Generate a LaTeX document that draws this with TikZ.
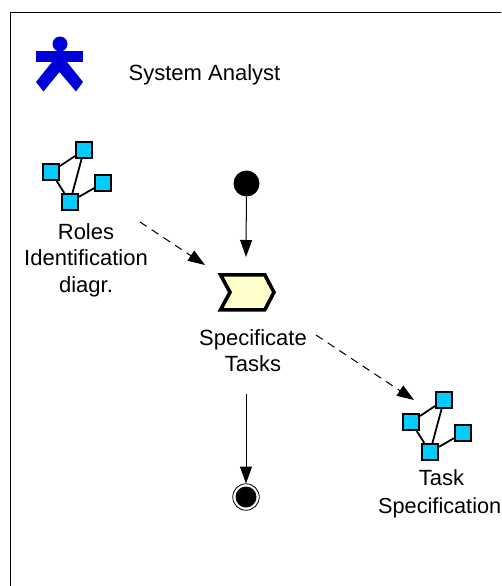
\documentclass[tikz,border=0pt]{standalone}
\usepackage{fontspec}
\setmainfont{Liberation Sans}
\usetikzlibrary{arrows.meta}
\definecolor{actorblue}{HTML}{0000D8}
\definecolor{iconcyan}{HTML}{00CCFF}
\definecolor{taskyellow}{HTML}{FFFFCC}
\tikzset{
  lbl/.style={align=center,inner sep=0pt,font=\fontsize{22}{26.6}\selectfont},
  sq/.style={draw=black,fill=iconcyan,line width=1.9pt,minimum size=16.2pt,inner sep=0pt,rectangle},
  lnk/.style={line width=1.8pt,black},
  flow/.style={line width=1pt,black,-{Triangle[length=17pt,width=12pt]}},
  dflow/.style={flow,dash pattern=on 8pt off 6pt},
  icon/.pic={
    \node[sq] (-a) at (84,150) {};
    \node[sq] (-b) at (51,172) {};
    \node[sq] (-c) at (70,202) {};
    \node[sq] (-d) at (103,183) {};
    \draw[lnk] (-b) -- (-a);
    \draw[lnk] (-a) -- (-c);
    \draw[lnk] (-b) -- (-c);
    \draw[lnk] (-c) -- (-d);
  }
}
\begin{document}
\begin{tikzpicture}[x=1pt,y=-1pt]
\useasboundingbox (0,0) rectangle (501,586);
\begin{scope}
\clip (0,0) rectangle (501,586);
% frame
\draw[black,line width=1pt] (10.5,600) -- (10.5,12.5) -- (520,12.5);
% actor
\fill[actorblue] (60,44) circle[radius=7.5];
\fill[actorblue] (36,51.5) rectangle (83,62);
\fill[actorblue] (52,62) -- (36,82) -- (43.5,91.5) -- (59.5,72) -- (76,91.5) -- (83,82) -- (67,62) -- cycle;
\node[lbl,anchor=west] (actorlbl) at (128.5,75) {System Analyst};
% icons
\pic (r) at (0,0) {icon};
\pic (s) at (360,250) {icon};
\node[lbl] (rolesl) at (86,260) {Roles\\Identification\\diagr.};
\node[lbl,anchor=north] (taskspecl) at (441.5,469) {Task};
\node[lbl,anchor=west,font=\fontsize{21.7}{26}\selectfont] (taskspec2) at (378,507.5) {Specification};
% start / end
\node[circle,fill=black,minimum size=26pt,inner sep=0pt] (start) at (246.5,183.5) {};
\node[circle,draw=black,fill=white,line width=0.8pt,minimum size=26.5pt,inner sep=0pt] (final) at (246,497) {};
\fill[black] (final.center) circle[radius=10.5];
% task
\coordinate (task) at (247,292);
\draw[line width=3.6pt,fill=taskyellow,miter limit=4,line join=miter]
  (220.5,274.8) -- (264.8,274.8) -- (274,292.3) -- (264.8,309.8) -- (220.5,309.8) -- (230,292.3) -- cycle;
\node[lbl] (taskl) at (253,350.5) {Specificate\\Tasks};
% connectors
\coordinate (t1) at (246,257);
\coordinate (f1) at (246,394);
\coordinate (d1a) at (140,222);
\coordinate (d1b) at (205,265);
\coordinate (d2a) at (316,335);
\coordinate (d2b) at (414,400);
\draw[flow] (start) -- (t1);
\draw[flow,shorten >=13.5pt] (f1) -- (final.center);
\draw[dflow] (d1a) -- (d1b);
\draw[dflow] (d2a) -- (d2b);
\end{scope}
\end{tikzpicture}
\end{document}
